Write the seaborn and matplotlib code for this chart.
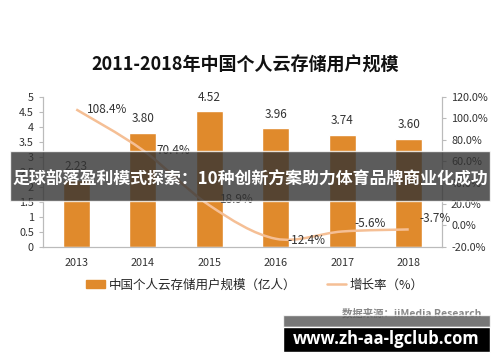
import matplotlib
matplotlib.use("Agg")
import matplotlib.pyplot as plt
import seaborn as sns
import pandas as pd
import numpy as np
from matplotlib.path import Path
from matplotlib.patches import PathPatch, Rectangle
from matplotlib.lines import Line2D
from matplotlib.patches import Patch

years = ["2013", "2014", "2015", "2016", "2017", "2018"]
users = [2.23, 3.80, 4.52, 3.96, 3.74, 3.60]
growth = [108.4, 70.4, 18.9, -12.4, -5.6, -3.7]
left_ticks = [0, 0.5, 1, 1.5, 2, 2.5, 3, 3.5, 4, 4.5, 5]
right_ticks = [-20, 0, 20, 40, 60, 80, 100, 120]

sns.set_theme(style="white")
plt.rcParams['font.family'] = ['Noto Sans CJK SC', 'DejaVu Sans']

BAR = "#E08A2C"
LINE = "#F5BF95"
TXT = "#333333"

fig = plt.figure(figsize=(5, 3.62), dpi=100)
ax = fig.add_axes([0.086, 0.318, 0.798, 0.414])
df = pd.DataFrame({"year": years, "users": users, "growth": growth})
sns.barplot(data=df, x="year", y="users", color=BAR, width=0.4, ax=ax, saturation=1)
ax.set_ylim(0, 5)
ax.set_yticks(left_ticks)
ax.set_yticklabels([f"{t:g}" for t in left_ticks])
ax.set_xlabel(""); ax.set_ylabel("")
ax.set_xlim(-0.5, 5.5)
for i, v in enumerate(users):
    ax.text(i, v + 0.25, f"{v:.2f}", ha="center", va="bottom", fontsize=8.5, color=TXT)

ax2 = ax.twinx()
ax2.set_ylim(-20, 120)
ax2.set_yticks(right_ticks)
ax2.set_yticklabels([f"{t:.1f}%" for t in right_ticks])

# smooth curve through data points (Catmull-Rom -> cubic Bezier)
xs = np.arange(len(growth), dtype=float)
ys = np.array(growth, dtype=float)
verts = [(xs[0], ys[0])]
codes = [Path.MOVETO]
for i in range(len(xs) - 1):
    p0 = (xs[max(i - 1, 0)], ys[max(i - 1, 0)])
    p1 = (xs[i], ys[i]); p2 = (xs[i + 1], ys[i + 1])
    p3 = (xs[min(i + 2, len(xs) - 1)], ys[min(i + 2, len(xs) - 1)])
    c1 = (p1[0] + (p2[0] - p0[0]) / 6, p1[1] + (p2[1] - p0[1]) / 6)
    c2 = (p2[0] - (p3[0] - p1[0]) / 6, p2[1] - (p3[1] - p1[1]) / 6)
    verts += [c1, c2, p2]
    codes += [Path.CURVE4] * 3
ax2.add_patch(PathPatch(Path(verts, codes), fill=False, edgecolor=LINE, lw=1.8, zorder=3))

offsets = [(22, 0), (22, 0), (20, 4), (22, -1), (20, 6), (19, 8)]
for i, v in enumerate(growth):
    ax2.annotate(f"{v:.1f}%", (i, v), xytext=offsets[i], textcoords="offset points",
                 ha="center", va="center", fontsize=8.5, color=TXT)

for a in (ax, ax2):
    for s in a.spines.values():
        s.set_color("#BBBBBB"); s.set_linewidth(0.8)
    a.spines["top"].set_visible(False)
    a.tick_params(labelsize=7.8, colors=TXT, length=3, width=0.8, color="#BBBBBB")
ax.tick_params(axis="x", length=0, pad=8)
ax.set_xticks([i + 0.5 for i in range(-1, 6)], minor=True)
ax.tick_params(axis="x", which="minor", length=4, color="#BBBBBB", width=0.8)

fig.text(0.49, 0.82, "2011-2018年中国个人云存储用户规模", ha="center", va="center",
         fontsize=13, fontweight="bold", color="#111111")

handles = [Patch(facecolor=BAR, edgecolor=BAR), Line2D([0], [0], color=LINE, lw=1.8)]
fig.legend(handles, ["中国个人云存储用户规模（亿人）", "增长率（%）"], loc="center",
           bbox_to_anchor=(0.51, 0.213), ncol=2, frameon=False, fontsize=9,
           handlelength=1.5, columnspacing=2.5, handletextpad=0.3)

fig.text(0.962, 0.135, "数据来源：iiMedia Research", ha="right", va="center",
         fontsize=7.5, color="#888888", fontweight="bold")

# overlay banner
fig.patches.append(Rectangle((0.02, 1 - 201 / 362), 0.96, 50 / 362, transform=fig.transFigure,
                             facecolor="#333333", alpha=0.8, zorder=10))
fig.text(0.5, 1 - 180 / 362, "足球部落盈利模式探索：10种创新方案助力体育品牌商业化成功",
         ha="center", va="center", fontsize=12.2, fontweight="bold", color="white", zorder=11)

# watermark
fig.patches.append(Rectangle((283 / 500, 1 - 327 / 362), 207 / 500, 12 / 362, transform=fig.transFigure,
                             facecolor="#555555", alpha=0.8, zorder=10))
fig.patches.append(Rectangle((283 / 500, 1 - 352 / 362), 207 / 500, 25 / 362, transform=fig.transFigure,
                             facecolor="black", zorder=10))
fig.text(386.5 / 500, 1 - 339 / 362, "www.zh-aa-lgclub.com", ha="center", va="center",
         fontsize=12, fontweight="bold", color="white", zorder=11,
         family=["Open Sans", "DejaVu Sans"])

fig.savefig("out.png", dpi=100)
